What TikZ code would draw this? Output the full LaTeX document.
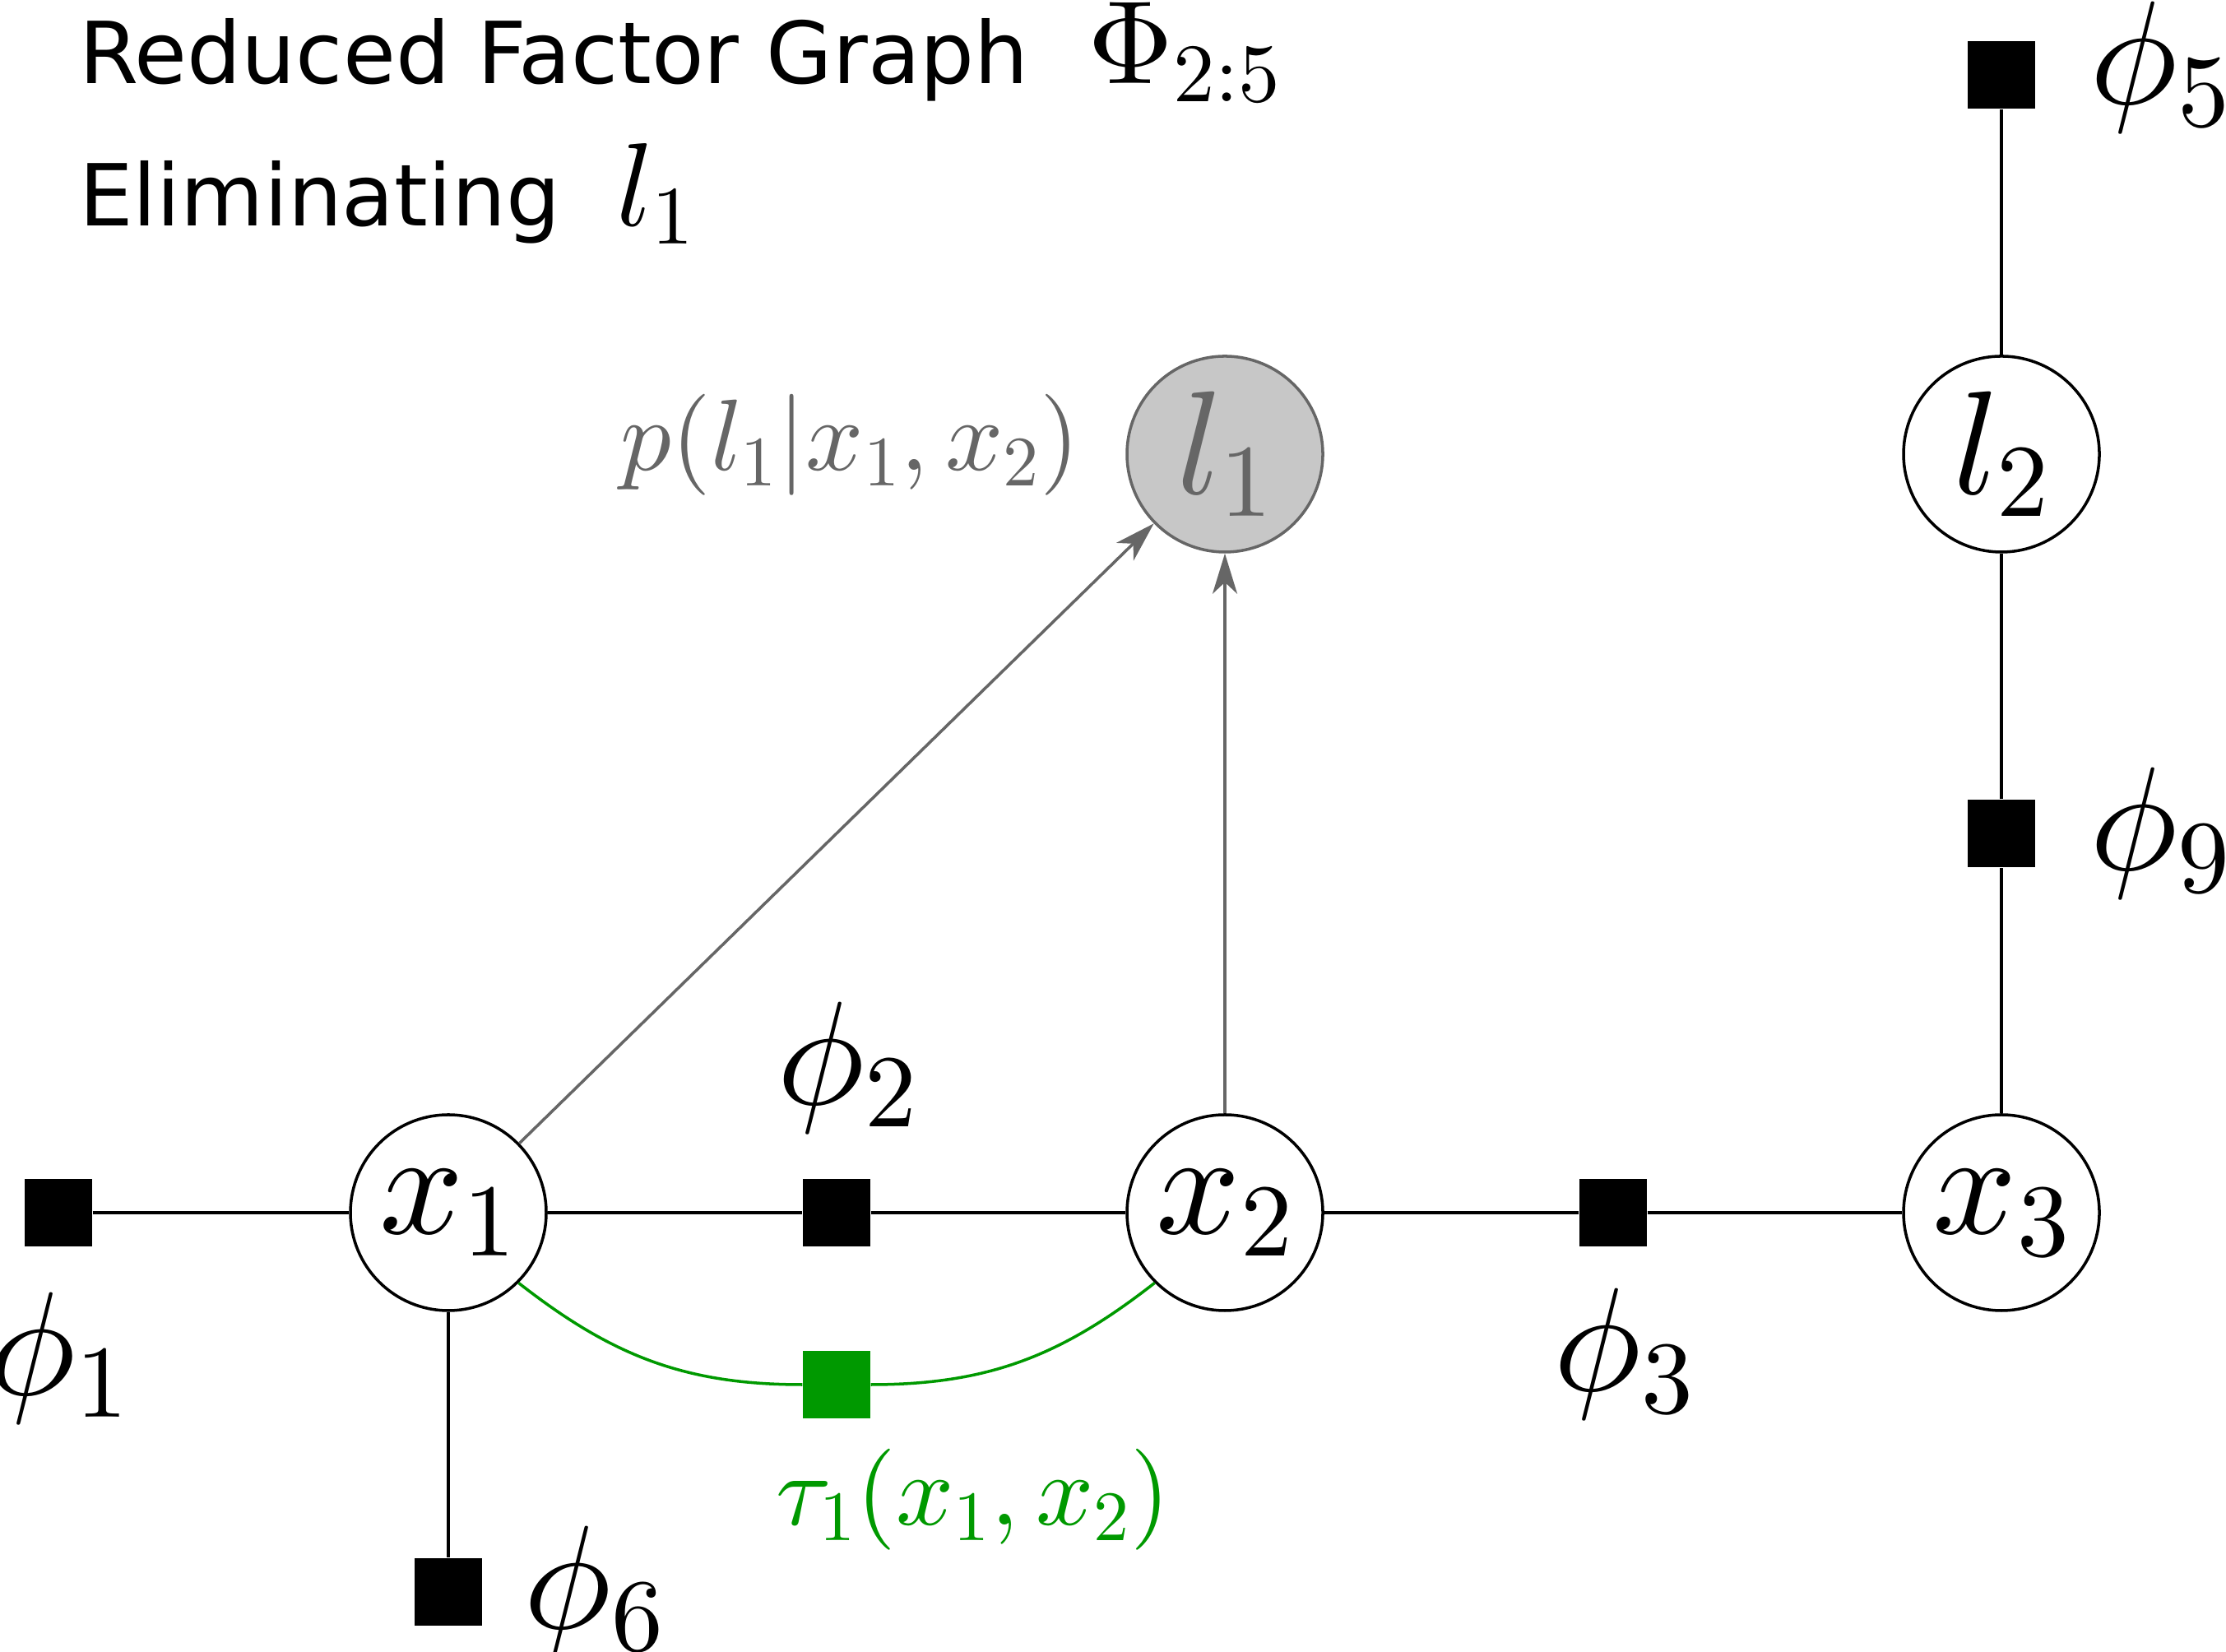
\documentclass[tikz,border=0pt]{standalone}
\usepackage[no-math]{fontspec}
\newfontfamily\titlefont{DejaVu Sans}
% scale the 10pt designs of the math fonts to any size
\DeclareFontShape{OT1}{cmr}{m}{n}{<->cmr10}{}
\DeclareFontShape{OML}{cmm}{m}{it}{<->cmmi10}{}
\DeclareFontShape{OMS}{cmsy}{m}{n}{<->cmsy10}{}
\usetikzlibrary{arrows.meta,positioning}
\tikzset{
    %Define standard arrow tip
    >={Stealth[length=4.9mm,width=3mm,inset=1.4mm]},
    %Define style for variable nodes
    var/.style={
      circle,
      draw=black, line width=1pt,
      fill=white,
      minimum size=2.38cm,
      inner sep=0pt,
      font=\fontsize{51}{60}\selectfont},
    %Define style for the eliminated variable
    elim/.style={
      var,
      draw=black!60,
      fill=black!22,
      text=black!60},
    %Define style for factors
    fac/.style={
      rectangle,
      fill=black,
      minimum size=0.82cm,
      inner sep=0pt},
    newfac/.style={
      fac,
      fill=green!60!black},
    %Define style for labels
    flabel/.style={
      inner sep=0pt,
      font=\fontsize{51}{60}\selectfont},
    slabel/.style={
      inner sep=0pt,
      font=\fontsize{35}{42}\selectfont},
    % Define edge styles
    edg/.style={
      line width=1pt},
    arr/.style={
      ->,
      line width=1pt,
      draw=black!60},
}

\begin{document}
\begin{tikzpicture}[on grid, node distance=4.72cm]
    \useasboundingbox (0,0) rectangle (27.06,20.07);

    % title
    \node[anchor=base west, inner sep=0pt] (title1) at (0.955,19.05)
      {\titlefont\fontsize{29.6}{35}\selectfont Reduced Factor Graph\hspace{0.72cm}{\fontsize{41}{48}\selectfont$\Phi_{2:5}$}};
    \node[anchor=base west, inner sep=0pt] (title2) at (0.955,17.32)
      {\titlefont\fontsize{29.6}{35}\selectfont Eliminating\hspace{0.68cm}{\fontsize{41}{48}\selectfont$l_1$}};

    % variables
    \node[var] (x1) at (5.45,5.33) {$x_1$};
    \node[var, right=9.44cm of x1] (x2) {$x_2$};
    \node[var, right=9.44cm of x2] (x3) {$x_3$};
    \node[elim, above=9.22cm of x2] (l1) {$l_1$};
    \node[var, above=9.22cm of x3] (l2) {$l_2$};

    % factors
    \node[fac, left=4.74cm of x1] (phi1) {};
    \node[fac, right=of x1] (phi2) {};
    \node[fac, right=of x2] (phi3) {};
    \node[fac, below=4.61cm of x1] (phi6) {};
    \node[fac, above=4.61cm of x3] (phi9) {};
    \node[fac, above=4.61cm of l2] (phi5) {};
    \node[newfac, below=2.09cm of phi2] (tau1) {};

    % factor labels
    \node[flabel, below=1.77cm of phi1] (lphi1) {$\phi_1$};
    \node[flabel, above=1.76cm of phi2, xshift=0.13cm] (lphi2) {$\phi_2$};
    \node[flabel, below=1.72cm of phi3, xshift=0.13cm] (lphi3) {$\phi_3$};
    \node[flabel, right=1.77cm of phi6] (lphi6) {$\phi_6$};
    \node[flabel, right=1.93cm of phi9] (lphi9) {$\phi_9$};
    \node[flabel, right=1.93cm of phi5, yshift=0.09cm] (lphi5) {$\phi_5$};
    \node[slabel, anchor=north west, text=green!60!black] (ltau1)
      at ([shift={(-0.33,-0.36)}]tau1.south west) {$\tau_1(x_1,x_2)$};
    \node[slabel, anchor=east, text=black!60] (lcond)
      at ([shift={(-0.55,0.11)}]l1.west) {$p(l_1|x_1,x_2)$};

    % edges
    \draw[edg] (phi1) -- (x1) -- (phi2) -- (x2) -- (phi3) -- (x3)
      -- (phi9) -- (l2) -- (phi5);
    \draw[edg] (x1) -- (phi6);
    \draw[edg, green!60!black] (x1.-45) to[out=-38, in=180] (tau1)
      to[out=0, in=-142] (x2.-135);

    % conditional
    \draw[arr] (x1) -- (l1);
    \draw[arr] (x2) -- (l1);
\end{tikzpicture}
\end{document}
